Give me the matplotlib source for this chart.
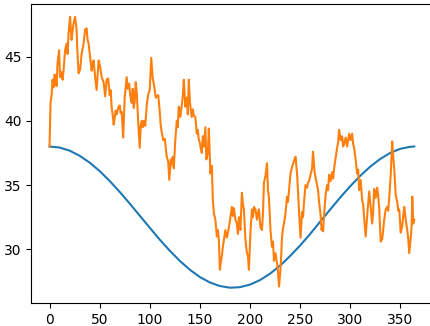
import numpy as np
import matplotlib
matplotlib.use('Agg')
import matplotlib.pyplot as plt

# ── data ─────────────────────────────────────────────────────
# seasonal baseline, sampled every 10 days
base_days = [0, 10, 20, 30, 40, 50, 60, 70, 80, 90, 100, 110, 120, 130,
             140, 150, 160, 170, 180, 190, 200, 210, 220, 230, 240, 250,
             260, 270, 280, 290, 300, 310, 320, 330, 340, 350, 360, 364]
base_vals = [38.00, 37.92, 37.68, 37.28, 36.75, 36.09, 35.32, 34.47, 33.56,
             32.62, 31.68, 30.75, 29.89, 29.10, 28.41, 27.84, 27.42, 27.14,
             27.01, 27.05, 27.25, 27.60, 28.10, 28.72, 29.47, 30.29, 31.18,
             32.14, 33.09, 34.02, 34.90, 35.71, 36.43, 37.03, 37.50, 37.82,
             37.98, 38.00]

# observed series
obs_days = [0, 1, 2, 3, 4, 5, 6, 7, 8, 9.5, 10.5, 12, 13, 14, 15.5, 17, 18,
            19, 20.5, 22, 23, 24, 25.5, 27, 28, 29, 30.5, 32, 34, 35.5, 37,
            38, 39, 40.5, 42, 43, 44, 45.5, 47, 48, 49, 50.5, 52, 54, 55.5,
            57, 58.5, 60, 61, 62, 63, 64, 65, 66, 67, 68.5, 70, 71, 72, 73.5,
            75, 76, 77, 78, 79.5, 80.5, 82, 83, 84, 85, 86, 87, 88.5, 90, 91,
            92, 93, 94, 95.5, 97, 98, 99, 100, 101.5, 103, 104, 105, 106, 107,
            108.5, 110, 111, 112, 113.5, 115, 116, 117, 118.5, 119.5, 121,
            122, 123, 124, 125.5, 127, 128, 129, 130.5, 132, 133, 134, 135.5,
            137, 138, 139, 140, 141, 142, 143, 144, 145.5, 147, 148, 149, 150,
            151, 152, 153, 154, 155.5, 156.5, 158, 159, 160.5, 162, 163, 164,
            165.5, 167, 168, 169, 170, 171, 172, 173, 174, 175.5, 177, 178,
            179, 180.5, 182, 183, 184, 185.5, 187, 188, 189, 190.5, 192, 193,
            194, 195.5, 197, 198, 199, 200.5, 202, 203, 204, 205.5, 207, 208,
            209, 210.5, 212, 213, 214, 215.5, 217, 218, 219, 220.5, 222, 223,
            224, 225.5, 227, 228, 229, 230.5, 232, 233, 234, 235.5, 237, 238,
            239, 240.5, 242, 244, 245.5, 247, 248, 249, 250.5, 252, 253, 254,
            255.5, 257, 258, 259, 260.5, 262, 263, 264.5, 265.5, 267, 268,
            269, 270.5, 271.5, 272, 273, 274, 275.5, 277, 278, 279, 280.5,
            282, 283, 284, 285.5, 287, 288, 289, 290.5, 292, 293, 294, 295.5,
            297, 298, 299, 300.5, 302, 303, 304, 305.5, 307, 308, 309, 310.5,
            312, 313, 314, 315.5, 317, 318, 319, 320.5, 322, 323, 324, 325.5,
            327, 328, 329, 330.5, 332, 333, 334, 335.5, 337, 338, 339, 340.5,
            342, 343, 344, 345.5, 347, 348, 349, 350.5, 352, 353, 354, 355.5,
            357, 358, 359, 360.5, 361.5, 362, 363, 364]
obs_vals = [38.0, 41.4, 42.0, 43.2, 42.6, 43.6, 43.4, 42.7, 44.5, 45.5, 43.4,
            43.8, 43.2, 43.9, 45.5, 46.0, 45.2, 46.8, 48.1, 46.3, 47.0, 47.6,
            48.1, 47.1, 45.0, 43.7, 44.0, 45.2, 46.0, 47.1, 47.2, 46.3, 46.0,
            45.0, 43.9, 44.4, 44.7, 43.4, 42.4, 43.5, 44.7, 44.2, 43.4, 43.0,
            41.9, 43.2, 43.3, 42.0, 42.4, 41.0, 40.5, 39.7, 40.2, 40.8, 40.5,
            41.0, 41.2, 40.6, 40.7, 38.7, 41.8, 42.6, 43.4, 42.5, 42.9, 42.0,
            41.4, 42.5, 41.0, 41.5, 43.0, 42.3, 39.9, 37.9, 39.6, 40.0, 39.5,
            40.0, 39.6, 41.2, 41.8, 42.2, 42.4, 44.9, 43.3, 42.9, 42.4, 41.8,
            41.9, 42.0, 40.7, 39.6, 39.1, 38.5, 38.6, 37.9, 37.2, 36.8, 35.4,
            37.0, 36.6, 37.2, 36.3, 38.5, 40.0, 39.5, 41.1, 40.3, 41.2, 42.0,
            43.2, 41.1, 41.8, 40.5, 43.2, 41.6, 40.8, 40.3, 40.9, 40.4, 40.3,
            39.0, 39.3, 38.5, 38.3, 37.8, 37.5, 38.8, 38.0, 39.5, 37.0, 37.5,
            39.4, 35.9, 36.5, 33.8, 32.8, 32.3, 31.0, 31.5, 30.7, 28.4, 29.0,
            29.5, 30.2, 30.7, 31.5, 30.9, 31.3, 31.7, 32.5, 33.3, 32.6, 33.2,
            32.3, 32.0, 31.2, 32.5, 31.5, 34.4, 33.5, 33.1, 30.7, 29.7, 29.5,
            28.4, 31.3, 33.1, 32.5, 33.3, 33.1, 32.3, 32.8, 33.1, 31.7, 31.5,
            32.8, 35.2, 35.7, 36.7, 34.6, 34.0, 31.5, 30.2, 30.6, 29.1, 29.7,
            28.9, 28.3, 27.1, 28.4, 30.9, 31.6, 32.0, 32.8, 34.1, 33.7, 34.6,
            35.9, 36.4, 36.9, 37.2, 35.9, 34.5, 32.9, 30.9, 32.9, 32.5, 33.7,
            35.0, 34.8, 35.2, 35.3, 35.8, 36.3, 37.6, 36.0, 35.6, 35.0, 34.6,
            33.7, 32.7, 31.5, 31.7, 31.4, 32.7, 34.2, 35.0, 34.6, 35.8, 35.3,
            36.0, 35.5, 36.3, 37.1, 37.9, 38.3, 39.3, 38.5, 38.8, 38.0, 38.2,
            38.7, 38.0, 38.5, 39.0, 38.5, 39.0, 38.2, 37.9, 37.0, 35.9, 36.2,
            34.6, 35.4, 33.8, 33.5, 32.4, 31.0, 32.6, 33.5, 34.5, 33.3, 32.0,
            33.0, 34.7, 34.0, 34.8, 34.2, 33.2, 30.6, 30.8, 31.5, 32.3, 33.1,
            33.3, 33.0, 34.0, 35.8, 38.4, 37.2, 36.3, 34.2, 33.7, 33.0, 33.1,
            31.3, 31.8, 32.6, 33.3, 32.3, 31.5, 30.8, 29.7, 30.9, 32.0, 34.1,
            32.0, 32.3]
# ─────────────────────────────────────────────────────────────

fig = plt.figure(figsize=(4.3, 3.26), dpi=100)
ax = fig.add_axes([0.0728, 0.0706, 0.933, 0.917])

ax.plot(base_days, base_vals, color='C0')
ax.plot(obs_days, obs_vals, color='C1')

ax.set_xlim(-18.2, 382.2)
ax.set_ylim(25.82, 49.09)
ax.set_xticks([0, 50, 100, 150, 200, 250, 300, 350])
ax.set_yticks([30, 35, 40, 45])

plt.savefig('out.png', dpi=100)
